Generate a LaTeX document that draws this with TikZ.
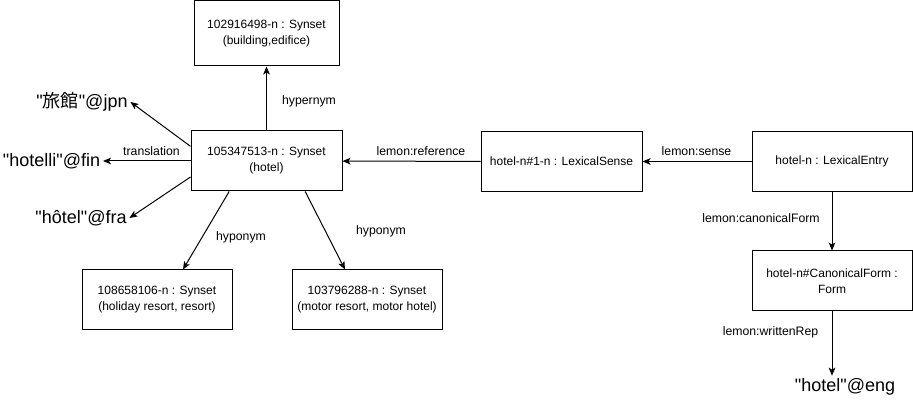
\documentclass[tikz,border=0pt]{standalone}
\usepackage{fontspec}
\setmainfont{Liberation Sans}
\newfontfamily\cjk{Noto Sans CJK JP}
\usetikzlibrary{arrows.meta}

\begin{document}
\begin{tikzpicture}[x=0.75pt, y=-0.75pt, font=\fontsize{9}{12}\selectfont,
		box/.style={draw, line width=0.75pt, align=center, minimum width=112.5pt, minimum height=45pt, inner sep=2pt},
		lit/.style={font=\fontsize{13.5}{16}\selectfont, inner sep=2pt},
		lbl/.style={inner sep=0pt, font=\fontsize{9.2}{12}\selectfont},
		link/.style={line width=0.75pt, -{Stealth[length=6pt, width=5pt, inset=1.5pt]}}]
		\useasboundingbox (0,0) rectangle (913,416);

		\node[box, minimum width=108.75pt, minimum height=48.75pt] (hyper) at (266.5,33.5) {102916498-n : Synset\\(building,edifice)};
		\node[box, minimum width=113.25pt] (hotel) at (266.5,161) {105347513-n : Synset\\(hotel)};
		\node[box] (holiday) at (157,300) {108658106-n : Synset\\(holiday resort, resort)};
		\node[box] (motor) at (367,300) {103796288-n : Synset\\(motor resort, motor hotel)};
		\node[box, minimum width=120.75pt] (sense) at (561.5,161.5) {hotel-n\#1-n : LexicalSense};
		\node[box, minimum width=120pt] (entry) at (832,161.5) {hotel-n : LexicalEntry};
		\node[box, minimum width=120pt] (canon) at (832,281) {hotel-n\#CanonicalForm :\\Form};

		\node[lit] (jpn) at (82,102) {\textquotedbl{\cjk 旅館}\textquotedbl@jpn};
		\node[lit] (fin) at (51.5,161) {\textquotedbl hotelli\textquotedbl@fin};
		\node[lit] (fra) at (81,218) {\textquotedbl hôtel\textquotedbl@fra};
		\node[lit] (eng) at (845,387) {\textquotedbl hotel\textquotedbl@eng};

		\node[lbl] (lhyper) at (309,101) {hypernym};
		\node[lbl] (ltrans) at (151.5,151) {translation};
		\node[lbl] (lref) at (421,151) {lemon:reference};
		\node[lbl] (lsense) at (696.5,151) {lemon:sense};
		\node[lbl] (lhypo1) at (241,237) {hyponym};
		\node[lbl] (lhypo2) at (381,231) {hyponym};
		\node[lbl] (lcanon) at (761,218) {lemon:canonicalForm};
		\node[lbl] (lwritten) at (770.5,332) {lemon:writtenRep};

		\path (hotel) edge[link] (hyper);
		\path (sense) edge[link] (hotel);
		\path (entry) edge[link] (sense);
		\path (entry) edge[link] (canon);
		\path (canon) edge[link] (canon |- eng.north);
		\path ([xshift=-28pt]hotel.south) edge[link] ([xshift=19.5pt]holiday.north);
		\path ([xshift=29pt]hotel.south) edge[link] ([xshift=-16.5pt]motor.north);
		\path ([yshift=11pt]hotel.west) edge[link] (jpn.east);
		\path (hotel) edge[link] (fin);
		\path ([yshift=-12pt]hotel.west) edge[link] (fra.east);
	\end{tikzpicture}
\end{document}
